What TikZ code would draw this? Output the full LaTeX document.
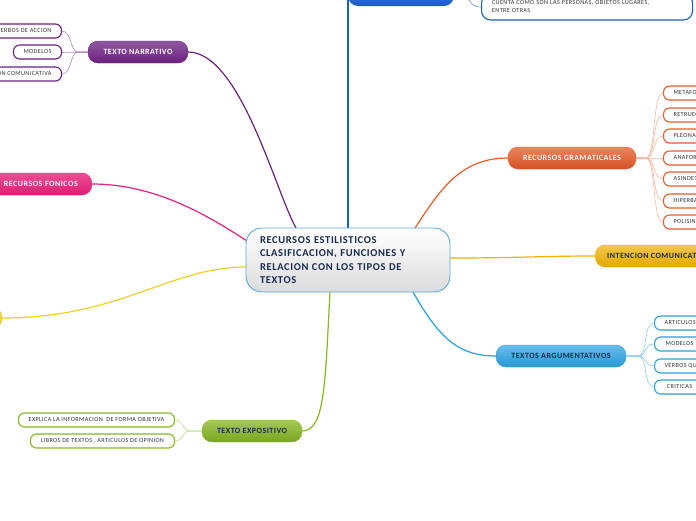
\documentclass[tikz,border=0pt]{standalone}
\usepackage{fontspec}
\setmainfont{Carlito}
\newfontfamily\spaced[LetterSpace=6]{Carlito}
\definecolor{navy}{HTML}{1A2A50}
\definecolor{cpurple}{HTML}{6B2080}
\definecolor{cpink}{HTML}{E8207A}
\definecolor{cyellow}{HTML}{F0D020}
\definecolor{corange}{HTML}{EA5A28}
\definecolor{cgold}{HTML}{F0B000}
\definecolor{cblue}{HTML}{28A0E0}
\definecolor{cgreen}{HTML}{86B820}
\definecolor{ctop}{HTML}{1A5CC8}
\definecolor{cborder}{HTML}{5AA8E0}
\tikzset{
  branch/.style={rounded corners=10pt, minimum height=22pt, inner xsep=12pt, inner ysep=0pt,
    font=\spaced\fontsize{8}{9}\selectfont\bfseries},
  sub/.style={rounded corners=6pt, fill=white, line width=1.1pt, minimum height=14pt,
    inner xsep=10pt, inner ysep=0pt, font=\spaced\fontsize{6.2}{8}\selectfont, text=black!80},
  link/.style={line width=1.2pt},
  sublink/.style={line width=0.6pt}
}
\begin{document}
\begin{tikzpicture}[x=1pt,y=-1pt]
\useasboundingbox (0,0) rectangle (696,520);
\clip (0,0) rectangle (696,520);
% connectors (main)
\draw[link, ctop] (348,228) -- (348,-2);
\draw[link, cpurple] (296,228) .. controls (275,190) and (240,52) .. (188,52);
\draw[link, cpink] (247,241) .. controls (200,210) and (150,184) .. (92,184);
\draw[link, cyellow] (246,267) .. controls (170,267) and (120,318) .. (2,318);
\draw[link, corange] (415,228) .. controls (440,190) and (460,158) .. (508,158);
\draw[link, cgold] (450,258) .. controls (520,258) and (540,256) .. (595,256);
\draw[link, cblue] (413,292) .. controls (440,340) and (460,356) .. (496,356);
\draw[link, cgreen] (330,292) .. controls (325,385) and (325,431) .. (302,431);
% center
\node[draw=cborder, line width=0.9pt, rounded corners=16pt, top color=white, bottom color=black!14,
  minimum width=204pt, minimum height=64pt, text width=176pt, align=left, inner sep=0pt,
  font=\spaced\fontsize{10.5}{13.5}\selectfont\bfseries, text=navy] (c) at (348,260)
  {RECURSOS ESTILISTICOS\\CLASIFICACION, FUNCIONES Y\\RELACION CON LOS TIPOS DE\\TEXTOS};
% top blue
\node[branch, top color=ctop!80, bottom color=ctop, minimum width=106pt] (top) at (401,-5) {};
\node[sub, draw=ctop, rounded corners=9pt, minimum width=211pt, minimum height=26pt, anchor=west,
  text width=190pt, align=left] (tops) at (481,7)
  {CUENTA COMO SON LAS PERSONAS, OBJETOS LUGARES,\\ENTRE OTRAS};
\draw[sublink, ctop!70] (454,-6) .. controls (474,-6) and (466,7) .. (tops.west);
% texto narrativo
\node[branch, top color=cpurple!75, bottom color=cpurple, draw=cpurple, text=white, minimum width=100pt] (tn) at (138,52) {TEXTO NARRATIVO};
\node[sub, draw=cpurple, anchor=east] (tn1) at (62,31) {VERBOS DE ACCION};
\node[sub, draw=cpurple, anchor=east] (tn2) at (62,52) {MODELOS};
\node[sub, draw=cpurple, anchor=east] (tn3) at (62,74) {INTENCION COMUNICATIVA};
\foreach \s in {tn1,tn2,tn3}
  \draw[sublink, cpurple!55] (tn.west) -- (78,52) .. controls (70,52) and (72,0|-\s.east) .. (\s.east);
% recursos fonicos
\node[branch, top color=cpink!80, bottom color=cpink!95!black, draw=cpink, text=white, anchor=east,
  inner xsep=14pt, text width=90pt, align=right] (rf) at (92,184) {RECURSOS FONICOS};
% yellow
\node[branch, top color=cyellow!80, bottom color=cyellow, draw=cyellow!90!black, anchor=east, minimum width=100pt] (yl) at (2,318) {};
% recursos gramaticales
\node[branch, top color=corange!75, bottom color=corange!90!black, draw=corange, text=white, minimum width=128pt] (rg) at (572,158) {RECURSOS GRAMATICALES};
\foreach \t/\y [count=\i] in {METAFORA/93,RETRUECANO/115,PLEONASMO/136,ANAFORA/158,ASINDETON/179,HIPERBATON/201,POLISINDETON/222}{
  \node[sub, draw=corange, anchor=west] (rg\i) at (663,\y) {\t};
  \draw[sublink, corange!45] (rg.east) -- (646,158) .. controls (656,158) and (652,\y) .. (rg\i.west);
}
% intencion comunicativa
\node[branch, top color=cgold!70, bottom color=cgold!95!black, draw=cgold, text=navy, anchor=west] (ic) at (595,256) {INTENCION COMUNICATIVA};
% textos argumentativos
\node[branch, top color=cblue!70, bottom color=cblue!95!black, draw=cblue, text=navy, minimum width=130pt] (ta) at (561,356) {TEXTOS ARGUMENTATIVOS};
\foreach \t/\y [count=\i] in {ARTICULOS/323,MODELOS/344,VERBOS QU/366,CRITICAS/387}{
  \node[sub, draw=cblue, anchor=west, minimum width=50pt] (ta\i) at (654,\y) {\t};
  \draw[sublink, cblue!55] (ta.east) -- (638,356) .. controls (648,356) and (643,\y) .. (ta\i.west);
}
% texto expositivo
\node[branch, top color=cgreen!75, bottom color=cgreen!90!black, draw=cgreen, text=navy, minimum width=100pt] (te) at (252,431) {TEXTO EXPOSITIVO};
\node[sub, draw=cgreen, anchor=east, minimum width=156pt] (te1) at (175,420) {EXPLICA LA INFORMACION\ \ DE FORMA OBJETIVA};
\node[sub, draw=cgreen, anchor=east, minimum width=144pt] (te2) at (175,441) {LIBROS DE TEXTOS , ARTICULOS DE OPINION};
\foreach \s in {te1,te2}
  \draw[sublink, cgreen!55] (te.west) -- (190,431) .. controls (182,431) and (184,0|-\s.east) .. (\s.east);
\end{tikzpicture}
\end{document}
